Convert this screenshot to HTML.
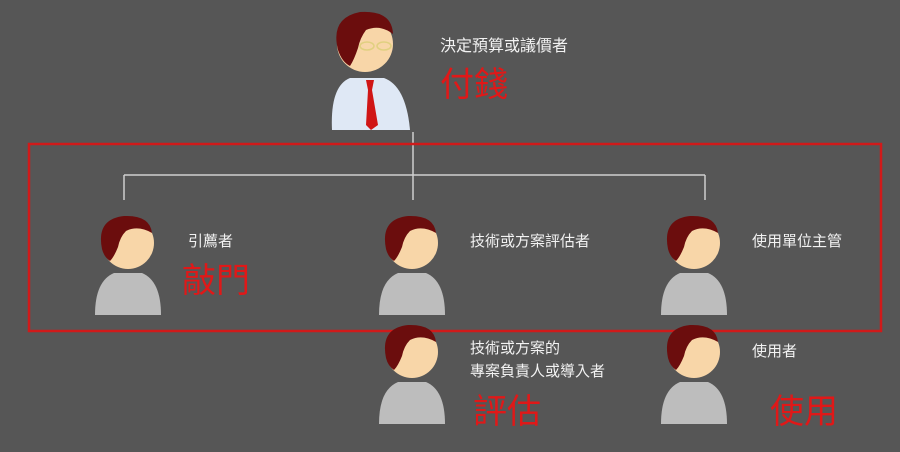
<!DOCTYPE html>
<html><head><meta charset="utf-8"><style>
body{margin:0;background:#565656;}
svg{display:block;font-family:"Liberation Sans","Noto Sans CJK TC",sans-serif;}
</style></head><body>
<svg width="900" height="452" viewBox="0 0 900 452">
<defs>
<g id="person">
<path d="M-33,72 Q-33,38 -14,30 L14,30 Q33,38 33,72 Z" fill="#bdbdbd"/>
<circle cx="0" cy="0" r="26" fill="#f8d6a8"/>
<path d="M-26,6 Q-32,-24 -4,-27 Q22,-28 24,-10 Q10,-18 -2,-12 Q-8,-6 -10,4 Q-14,14 -18,18 Q-24,14 -26,6 Z" fill="#6b0d0d"/>
</g>
</defs>
<rect width="900" height="452" fill="#565656"/>
<!-- top person -->
<g>
<path d="M332,130 Q330,86 350,78 L384,78 Q406,86 410,130 Z" fill="#dfe8f5"/>
<path d="M366,80 L374,80 L372,90 L378,125 L371,130 L366,125 L368,90 Z" fill="#d01515"/>
<circle cx="365" cy="44" r="28" fill="#f8d6a8"/>
<path d="M338,50 Q330,18 360,12 Q392,10 393,34 Q380,24 366,30 Q360,38 358,48 Q354,60 350,66 Q342,62 338,50 Z" fill="#6b0d0d"/>
<ellipse cx="367" cy="46" rx="7" ry="4" fill="none" stroke="#e0d080" stroke-width="1.5"/>
<ellipse cx="384" cy="46" rx="7" ry="4" fill="none" stroke="#e0d080" stroke-width="1.5"/>
</g>
<text x="440" y="51" font-size="16" fill="#f2f2f2">決定預算或議價者</text>
<text x="440" y="96" font-size="34" fill="#e01818">付錢</text>
<!-- connectors -->
<g stroke="#cfcfcf" stroke-width="1.5" fill="none">
<line x1="413" y1="132" x2="413" y2="200"/>
<line x1="124" y1="175" x2="705" y2="175"/>
<line x1="124" y1="175" x2="124" y2="200"/>
<line x1="705" y1="175" x2="705" y2="200"/>
</g>
<rect x="29" y="144" width="852" height="187" fill="none" stroke="#d01a1a" stroke-width="2.5"/>
<use href="#person" x="128" y="243"/>
<use href="#person" x="412" y="243"/>
<use href="#person" x="694" y="243"/>
<use href="#person" x="412" y="352"/>
<use href="#person" x="694" y="352"/>
<text x="188" y="246" font-size="15" fill="#f2f2f2">引薦者</text>
<text x="182" y="292" font-size="34" fill="#e01818">敲門</text>
<text x="470" y="246" font-size="15" fill="#f2f2f2">技術或方案評估者</text>
<text x="752" y="246" font-size="15" fill="#f2f2f2">使用單位主管</text>
<text x="470" y="353" font-size="15" fill="#f2f2f2">技術或方案的</text>
<text x="470" y="376" font-size="15" fill="#f2f2f2">專案負責人或導入者</text>
<text x="473" y="423" font-size="34" fill="#e01818">評估</text>
<text x="752" y="356" font-size="15" fill="#f2f2f2">使用者</text>
<text x="770" y="423" font-size="34" fill="#e01818">使用</text>
</svg>
</body></html>
